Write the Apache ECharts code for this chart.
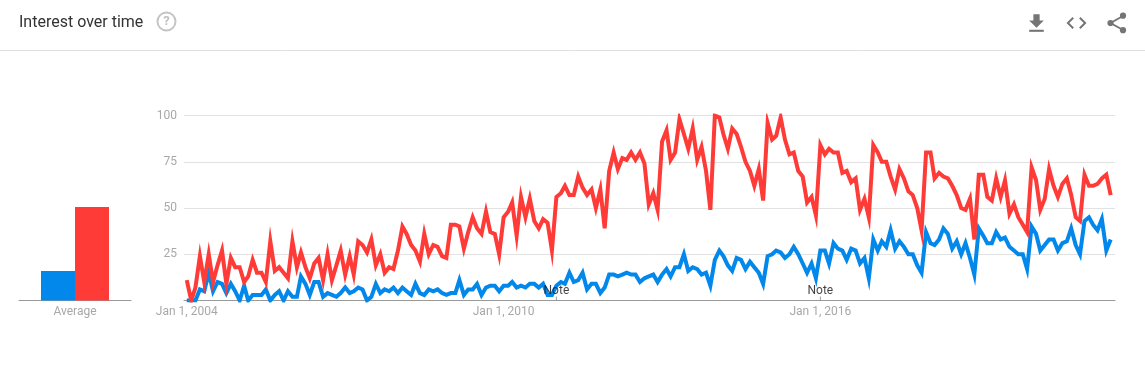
<!DOCTYPE html>
<html><head><meta charset="utf-8">
<style>html,body{margin:0;padding:0;background:#fff}#c{width:1145px;height:385px}</style>
<script src="https://cdn.jsdelivr.net/npm/echarts@6/dist/echarts.min.js"></script>
</head><body><div id="c"></div>
<script>
const startYear = 2004;
const redValues = [
11,0,7,24,10,25,10,19,27,9,
23,18,18,10,13,22,15,15,10,32,
16,18,15,12,32,18,26,18,12,20,
23,11,25,11,19,27,14,24,14,32,
30,26,33,19,25,15,18,17,27,40,
36,30,27,21,36,25,30,29,24,23,
41,41,40,28,37,45,39,36,48,37,
36,25,45,48,53,35,56,45,55,43,
39,44,42,27,56,58,62,57,57,67,
61,57,60,50,60,39,70,80,71,77,
76,80,76,80,74,52,58,49,86,92,
76,80,98,90,82,93,76,83,70,49,
100,99,90,82,93,90,83,75,70,62,
71,54,96,87,89,99,87,79,80,70,
67,53,56,46,84,79,82,80,80,69,
70,64,66,49,55,45,84,80,75,75,
67,60,71,66,59,57,50,38,80,80,
66,69,67,66,62,57,50,49,55,33,
68,68,56,54,66,56,65,47,52,45,
41,37,72,65,49,55,71,62,56,63,
66,57,45,43,68,62,62,63,66,68,57];
const blueValues = [
0,0,0,6,5,15,5,10,9,4,
9,5,0,8,0,3,3,3,6,0,
3,5,0,5,2,2,13,9,3,10,
10,2,4,3,2,4,7,4,5,7,
6,0,2,9,4,6,5,7,4,7,
5,3,9,4,3,6,5,6,4,3,
4,4,11,3,6,6,9,3,7,8,
8,5,8,8,10,7,8,7,9,9,
7,9,3,3,8,10,9,15,10,11,
15,6,9,9,4,7,14,14,13,14,
15,14,14,10,12,13,14,10,14,17,
13,18,18,25,16,18,17,14,15,8,
22,27,24,19,16,23,22,17,21,18,
15,9,24,25,27,26,23,25,29,25,
20,15,20,12,27,27,20,31,28,27,
22,28,27,20,23,12,33,27,32,29,
38,28,32,29,25,25,19,15,37,31,
30,33,39,36,28,32,25,31,23,14,
39,35,31,31,37,33,34,29,27,25,
25,17,40,36,27,30,33,33,27,31,
32,39,30,25,43,45,41,38,44,27,33];
const averages = [16, 50.5];
const avgCategories = ['Average'];
const yTicks = [0, 25, 50, 75, 100];
const tickDates = [Date.UTC(2004,0,1), Date.UTC(2010,0,1), Date.UTC(2016,0,1)];
const noteDates = [Date.UTC(2011,0,1), Date.UTC(2016,0,1)];
const noteLabel = 'Note';
const titleText = 'Interest over time';

const BLUE = '#0288ea', RED = '#ff3b38', GREYT = '#a8a8a8', FONT = 'Roboto', ICON = '#757575';
const monthly = vals => vals.map((v, i) => [Date.UTC(startYear, i, 1), v]);
const MONTHS = ['Jan','Feb','Mar','Apr','May','Jun','Jul','Aug','Sep','Oct','Nov','Dec'];
const fmtDate = v => { const d = new Date(+v); return MONTHS[d.getUTCMonth()] + ' ' + d.getUTCDate() + ', ' + d.getUTCFullYear(); };

const poly = (pts, ox, oy, s) => ({ type: 'polygon', silent: true,
  shape: { points: pts.map(p => [ox + p[0] * s, oy + p[1] * s]) }, style: { fill: ICON } });
const dot = (cx, cy, r) => ({ type: 'circle', silent: true, shape: { cx, cy, r }, style: { fill: ICON } });
const seg = (x1, y1, x2, y2) => ({ type: 'line', silent: true, shape: { x1, y1, x2, y2 }, style: { stroke: ICON, lineWidth: 1.9 } });

const chart = echarts.init(document.getElementById('c'), null, { renderer: 'canvas' });
chart.setOption({
  animation: false,
  backgroundColor: '#fff',
  textStyle: { fontFamily: FONT },
  grid: [
    { left: 184, right: 30, top: 115.5, height: 185 },
    { left: 19, width: 112, top: 115.5, height: 185 }
  ],
  xAxis: [
    { type: 'value', gridIndex: 0, scale: true,
      min: Date.UTC(2003,11,13), max: Date.UTC(2021,6,31),
      splitLine: { show: false },
      axisLine: { onZero: false, lineStyle: { color: '#999', width: 1 } },
      axisTick: { show: false },
      axisLabel: { customValues: tickDates, formatter: v => fmtDate(v), color: GREYT, fontSize: 12, fontFamily: FONT, margin: 5, hideOverlap: false }
    },
    { type: 'category', gridIndex: 1, data: avgCategories,
      axisLine: { lineStyle: { color: '#999', width: 1 } },
      axisTick: { show: false },
      axisLabel: { color: GREYT, fontSize: 12, fontFamily: FONT, margin: 5 }
    }
  ],
  yAxis: [
    { type: 'value', gridIndex: 0, min: 0, max: 100, interval: 25,
      axisLine: { show: false }, axisTick: { show: false },
      axisLabel: { color: GREYT, fontSize: 12, fontFamily: FONT, margin: 7, formatter: v => yTicks.includes(v) && v > 0 ? String(v) : '' },
      splitLine: { lineStyle: { color: '#e2e2e2', width: 1 } }
    },
    { type: 'value', gridIndex: 1, min: 0, max: 100, show: false }
  ],
  series: [
    { name: 'Blue', type: 'line', xAxisIndex: 0, yAxisIndex: 0, data: monthly(blueValues), showSymbol: false, smooth: false,
      lineStyle: { color: BLUE, width: 4, join: 'miter' }, itemStyle: { color: BLUE }, z: 3 },
    { name: 'Red', type: 'line', xAxisIndex: 0, yAxisIndex: 0, data: monthly(redValues), showSymbol: false, smooth: false,
      lineStyle: { color: RED, width: 4, join: 'miter' }, itemStyle: { color: RED }, z: 4 },
    { name: 'Notes', type: 'scatter', xAxisIndex: 0, yAxisIndex: 0, data: noteDates.map(d => [d, 0]),
      symbol: 'rect', symbolSize: [1, 4], symbolOffset: [0, -2], clip: false, z: 5,
      itemStyle: { color: '#888' },
      label: { show: true, position: 'top', distance: 0, formatter: noteLabel, color: '#111', fontSize: 12, fontFamily: FONT }
    },
    { name: 'AvgBlue', type: 'bar', xAxisIndex: 1, yAxisIndex: 1, data: [averages[0]], barWidth: 34, barGap: 0, itemStyle: { color: BLUE } },
    { name: 'AvgRed', type: 'bar', xAxisIndex: 1, yAxisIndex: 1, data: [averages[1]], barWidth: 34, barGap: 0, itemStyle: { color: RED } }
  ],
  graphic: [
    { type: 'text', x: 19, y: 15, silent: true, style: { text: titleText, fill: '#333', font: '16px Roboto' } },
    { type: 'line', silent: true, shape: { x1: 0, y1: 50.5, x2: 1145, y2: 50.5 }, style: { stroke: '#e0e0e0', lineWidth: 1 } },
    { type: 'circle', silent: true, shape: { cx: 166.5, cy: 21.5, r: 9 }, style: { fill: 'none', stroke: '#c4c4c4', lineWidth: 2 } },
    { type: 'text', silent: true, x: 166.5, y: 21.5, style: { text: '?', fill: '#c0c0c0', font: 'bold 13px Roboto', align: 'center', verticalAlign: 'middle' } },
    poly([[19,9],[15,9],[15,3],[9,3],[9,9],[5,9],[12,16]], 1024, 11, 25/24),
    poly([[5,18],[19,18],[19,20],[5,20]], 1024, 11, 25/24),
    poly([[9.4,16.6],[4.8,12],[9.4,7.4],[8,6],[2,12],[8,18]], 1064.5, 11, 1),
    poly([[14.6,16.6],[19.2,12],[14.6,7.4],[16,6],[22,12],[16,18]], 1064.5, 11, 1),
    seg(1110.5, 23, 1123, 16), seg(1110.5, 23, 1123, 30),
    dot(1110.5, 23, 3.1), dot(1123, 15.7, 3.1), dot(1123, 30.2, 3.1)
  ]
});
</script></body></html>
